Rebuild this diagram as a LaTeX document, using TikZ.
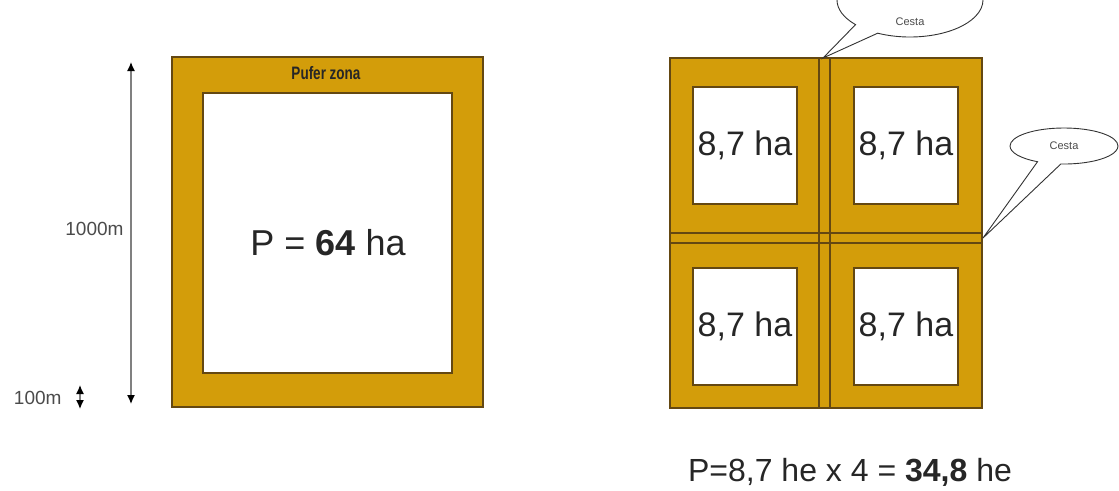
\documentclass[tikz,border=0pt]{standalone}
\usepackage{fontspec}
\setmainfont{Liberation Sans}
\usetikzlibrary{arrows.meta,shapes.callouts}
\definecolor{gold}{RGB}{211,157,10}
\definecolor{edge}{RGB}{100,72,18}
\definecolor{txtgray}{RGB}{75,75,75}
\tikzset{
  plot/.style={fill=gold,draw=edge,line width=1.5pt},
  hole/.style={fill=white,draw=edge,line width=1.5pt,inner sep=0pt},
  road/.style={draw=edge,line width=1.2pt},
  big/.style={font=\fontsize{34}{34}\selectfont,text=black!85},
  dim/.style={draw=gray,line width=1.3pt,{Latex[black,length=9pt,width=8pt]}-{Latex[black,length=9pt,width=8pt]}},
  small/.style={font=\fontsize{19}{19}\selectfont,text=txtgray},
  bubble/.style={ellipse callout,draw=black!80,line width=0.9pt,fill=white,font=\fontsize{11}{11}\selectfont,text=txtgray}
}
\begin{document}
\begin{tikzpicture}[x=1pt,y=-1pt]
\useasboundingbox (0,0) rectangle (1119,490);
\clip (0,0) rectangle (1119,490);
\fill[white] (0,0) rectangle (1119,490);
% ---------- left plot ----------
\node[plot,minimum width=311pt,minimum height=350pt,inner sep=0pt] (L) at (327.5,232) {};
\node[hole,minimum width=249pt,minimum height=280pt] (Lin) at (327.5,233) {};
\node[big,font=\fontsize{36}{36}\selectfont] (Ltext) at (328,243) {P = \textbf{64} ha};
\node[font=\bfseries\fontsize{18}{18}\selectfont,text=black!85] (puf) at (326,73) {\scalebox{0.75}[1]{Pufer zona}};
% dimensions
\coordinate (d1) at (131,62);
\coordinate (d2) at (131,404);
\draw[dim] (d1) -- (d2);
\node[small,anchor=east] (dimA) at (127,229) {1000m};
\coordinate (s1) at (80,385);
\coordinate (s2) at (80,409);
\draw[dim] (s1) -- (s2);
\node[small,anchor=east] (dimB) at (65,398) {100m};
% ---------- right plot ----------
\node[plot,minimum width=312pt,minimum height=350pt,inner sep=0pt] (R) at (826,233) {};
\coordinate (v1a) at (819,58);  \coordinate (v1b) at (819,408);
\coordinate (v2a) at (830,58);  \coordinate (v2b) at (830,408);
\coordinate (h1a) at (670,233); \coordinate (h1b) at (982,233);
\coordinate (h2a) at (670,243); \coordinate (h2b) at (982,243);
\draw[road] (v1a) -- (v1b);
\draw[road] (v2a) -- (v2b);
\draw[road] (h1a) -- (h1b);
\draw[road] (h2a) -- (h2b);
\node[hole,big,minimum width=104pt,minimum height=117pt] (q1) at (745,145.5) {8,7 ha};
\node[hole,big,minimum width=104pt,minimum height=117pt] (q2) at (906,145.5) {8,7 ha};
\node[hole,big,minimum width=104pt,minimum height=117pt] (q3) at (745,326.5) {8,7 ha};
\node[hole,big,minimum width=104pt,minimum height=117pt] (q4) at (906,326.5) {8,7 ha};
% callouts
\coordinate (p1) at (823,58);
\node[bubble,minimum width=146pt,minimum height=74pt,callout absolute pointer={(p1)},callout pointer arc=22] (c1) at (910,0) {};
\node[font=\fontsize{11}{11}\selectfont,text=txtgray] (c1t) at (910,22) {Cesta};
\coordinate (p2) at (983,238);
\node[bubble,minimum width=108pt,minimum height=36pt,callout absolute pointer={(p2)},callout pointer arc=26] (c2) at (1064,146) {Cesta};
% bottom formula
\node[font=\fontsize{32}{32}\selectfont,text=black!85] (form) at (850,472) {P=8,7 he x 4 = \textbf{34,8} he};
\end{tikzpicture}
\end{document}
